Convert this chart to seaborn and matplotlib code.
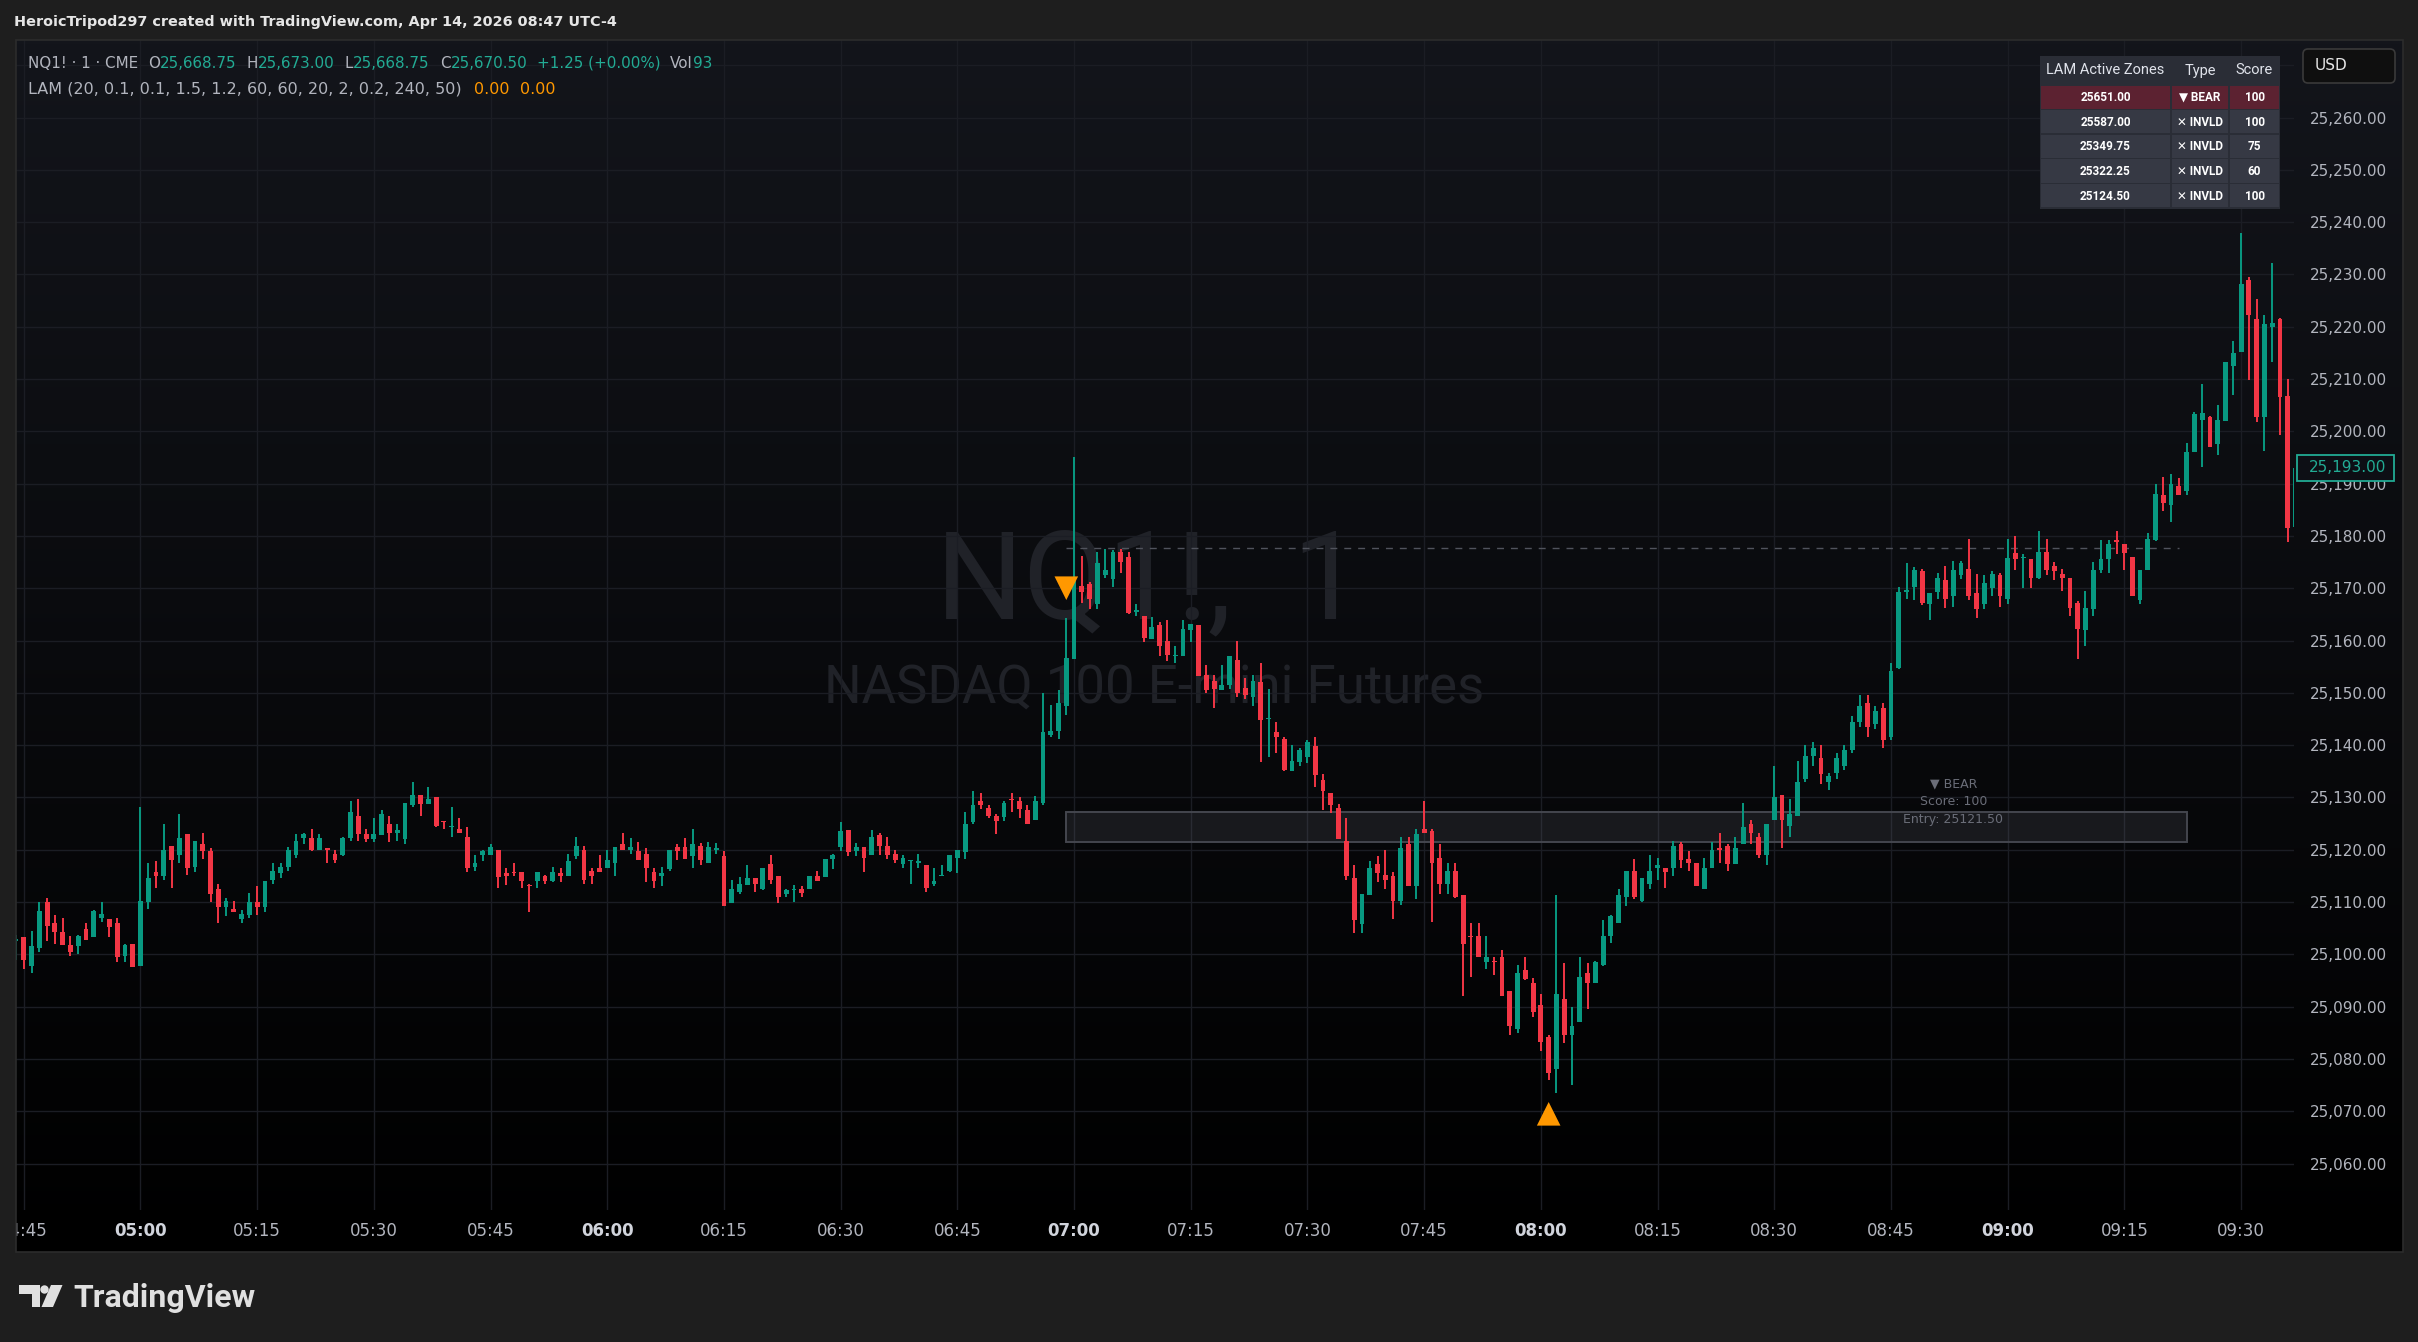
import numpy as np
import pandas as pd
import matplotlib
matplotlib.use("Agg")
import matplotlib.pyplot as plt
import matplotlib.dates as mdates
from matplotlib.patches import Rectangle, FancyBboxPatch, Polygon, Circle
from matplotlib.transforms import blended_transform_factory
import seaborn as sns

DAY = "2026-04-14 "
first_bar = "04:44"

# 1-minute bars, 04:44 .. 09:37 (10 per row)
opens = [
    25102.5, 25103.25, 25097.75, 25101.25, 25110, 25106, 25104.25, 25101.75, 25101.5, 25104.75,      # 04:44
    25103.25, 25107, 25106.75, 25106, 25099.75, 25102, 25097.75, 25110, 25115.75, 25115,             # 04:54
    25120.75, 25119, 25123, 25116.75, 25121, 25119.75, 25112.5, 25109, 25108.75, 25106.75,           # 05:04
    25107.5, 25110, 25109, 25114.25, 25115.5, 25116.75, 25119, 25122.25, 25122.25, 25120,            # 05:14
    25120.25, 25119.25, 25119, 25122.25, 25126.5, 25123, 25122, 25122.75, 25125, 25123.25,           # 05:24
    25122, 25128.5, 25130.5, 25128.75, 25130, 25125.5, 25124.25, 25124, 25122.5, 25116.75,           # 05:34
    25119, 25119, 25120, 25115.5, 25115.75, 25115.75, 25113.25, 25114, 25115, 25114,                 # 05:44
    25115.5, 25115, 25118.75, 25120, 25116, 25116.5, 25116.5, 25117.5, 25121, 25120,                 # 05:54
    25119.75, 25119.25, 25115.75, 25115, 25116.25, 25120.5, 25120.5, 25118.75, 25120.75, 25117.5,    # 06:04
    25120, 25118.75, 25109.75, 25112, 25113.25, 25114.5, 25112.5, 25117.25, 25115, 25111.5,          # 06:14
    25112.25, 25112.5, 25112.5, 25115, 25114.75, 25118.25, 25120.5, 25123.75, 25119.75, 25120.5,     # 06:24
    25119, 25122.75, 25120.75, 25119.25, 25117.25, 25117.75, 25117.5, 25117, 25113.5, 25115,         # 06:34
    25116, 25118.5, 25119.5, 25125.25, 25129.25, 25128, 25126.5, 25126.25, 25129.75, 25129.25,       # 06:44
    25127.5, 25125.75, 25129, 25142, 25142.75, 25147.5, 25156.5, 25170.5, 25170.75, 25167,           # 06:54
    25172.5, 25171.75, 25177, 25176, 25165.5, 25164.75, 25160.25, 25163, 25160, 25157,               # 07:04
    25157, 25162, 25163, 25153.5, 25152.25, 25150.5, 25151.5, 25156.25, 25151, 25149.25,             # 07:14
    25152, 25145, 25142.5, 25141.25, 25135, 25136.75, 25137.75, 25139.75, 25133.25, 25130.75,        # 07:24
    25128, 25121.75, 25114.5, 25105.75, 25111.25, 25117.25, 25115.25, 25115, 25110.25, 25121,        # 07:34
    25113, 25124, 25123.5, 25118.5, 25113.5, 25116, 25111.25, 25103.5, 25103.5, 25098.5,             # 07:44
    25098.75, 25099.5, 25093, 25085.75, 25097, 25094.5, 25090.25, 25084.25, 25078, 25091.5,          # 07:54
    25084.5, 25087, 25096.5, 25094.5, 25098, 25103.5, 25106, 25111, 25116, 25110.25,                 # 08:04
    25113.5, 25116.5, 25116.5, 25116.5, 25121, 25118.25, 25117.5, 25112.5, 25116.5, 25120.25,        # 08:14
    25120.75, 25117.25, 25121, 25125, 25122.5, 25119, 25125.75, 25130.5, 25124.5, 25126.5,           # 08:24
    25133.5, 25138, 25137.5, 25133, 25134.75, 25136, 25139, 25144.5, 25148, 25144,                   # 08:34
    25147, 25141.5, 25154.75, 25169.25, 25170.25, 25173.25, 25167, 25169.25, 25171.5, 25168.5,       # 08:44
    25172.5, 25173.75, 25169, 25167, 25170, 25172.5, 25168, 25176.75, 25175.75, 25175.5,             # 08:54
    25172, 25177, 25174.25, 25172.75, 25172, 25167.25, 25162, 25166, 25173.5, 25175.5,               # 09:04
    25179.25, 25178.5, 25176, 25167.75, 25173.5, 25179.25, 25187.75, 25186, 25189.5, 25188.5,        # 09:14
    25196, 25202.25, 25202.75, 25197.5, 25202, 25212.5, 25215.25, 25229, 25221.5, 25202.75,          # 09:24
    25220, 25221.5, 25206.75, 25181.75,                                                              # 09:34
]
highs = [
    25103.75, 25103.25, 25104.5, 25110, 25110.75, 25107.5, 25107, 25103.5, 25103.75, 25106,
    25108.5, 25110, 25106.75, 25107, 25102, 25102, 25128.25, 25117.5, 25117.75, 25125,
    25120.75, 25126.75, 25123, 25121.75, 25123.25, 25120.25, 25113.5, 25110.75, 25110.25, 25108.5,
    25111.75, 25113, 25114, 25117.5, 25117.5, 25120.5, 25123, 25123.25, 25124, 25123,
    25120.25, 25120, 25122.5, 25129.25, 25129.75, 25124, 25126, 25127.5, 25126.5, 25125,
    25129, 25133, 25130.5, 25132, 25130, 25125.5, 25128.25, 25126, 25124.25, 25119,
    25120, 25121, 25120, 25116.5, 25117.5, 25115.75, 25113.5, 25115.75, 25115.25, 25116.75,
    25116.5, 25119.25, 25122.5, 25120.75, 25116.5, 25119, 25120, 25120.5, 25123.25, 25122.25,
    25121.5, 25120.25, 25116.5, 25116.75, 25120, 25121, 25122.25, 25124, 25121.25, 25121.5,
    25121.25, 25119.75, 25114.25, 25114.75, 25117, 25114.5, 25116.5, 25119, 25115, 25112.5,
    25113.25, 25113, 25115, 25116, 25118.25, 25119.25, 25125.25, 25123.75, 25121.25, 25120.5,
    25123.75, 25123.25, 25122.5, 25120, 25119, 25118, 25119.25, 25117, 25116.5, 25117,
    25119, 25120, 25127.25, 25131.25, 25130.75, 25128.5, 25126.75, 25129.25, 25130.75, 25130,
    25128.5, 25130.25, 25150, 25147.75, 25150.5, 25164.25, 25195, 25176.25, 25171.25, 25177,
    25177.5, 25177.25, 25177.5, 25177, 25167, 25164.75, 25164.5, 25163.5, 25164, 25159,
    25164, 25163.25, 25163, 25155.25, 25153.5, 25155.25, 25157, 25160, 25152.75, 25153.5,
    25155.75, 25150.75, 25144.5, 25141.5, 25140, 25139.5, 25141, 25141.5, 25134.5, 25130.75,
    25128.75, 25126, 25117, 25111.5, 25117.75, 25118.75, 25120, 25115.75, 25122.5, 25122.5,
    25124, 25129.25, 25124, 25121, 25117.5, 25117.5, 25111.25, 25106, 25106, 25103.5,
    25099.5, 25100.75, 25093, 25098, 25099.5, 25095.5, 25092.5, 25084.5, 25111.25, 25098.25,
    25090, 25099.5, 25098.25, 25098.75, 25106.5, 25107.5, 25112.5, 25116, 25118.25, 25114.5,
    25119, 25118.5, 25116.5, 25121.75, 25121.5, 25119.75, 25117.5, 25118.5, 25121.5, 25123.25,
    25121, 25122.5, 25129, 25125.75, 25123.25, 25125, 25136, 25130.5, 25129.75, 25137,
    25140, 25140.5, 25140, 25134.75, 25138.5, 25140, 25145.5, 25149.5, 25149.5, 25147.5,
    25148, 25155.75, 25170.25, 25174.75, 25174, 25173.75, 25169, 25173, 25174.25, 25175.25,
    25175.25, 25179.5, 25172.75, 25172.5, 25173.25, 25173, 25179.5, 25180, 25176.5, 25175.5,
    25181, 25179.5, 25175, 25173.75, 25172, 25167.5, 25169.5, 25175, 25179.25, 25179.25,
    25181, 25178.5, 25176, 25173.5, 25180.5, 25190, 25191.25, 25191.75, 25191, 25197.75,
    25203.75, 25209, 25203, 25205, 25213.25, 25217.25, 25238, 25229.5, 25225.25, 25222.25,
    25232.25, 25221.75, 25210, 25193,
]
lows = [
    25099, 25097.25, 25096.5, 25100.5, 25102.5, 25102, 25101.75, 25099.75, 25100, 25102.75,
    25103.25, 25106.25, 25103.25, 25098.5, 25098.5, 25097.5, 25097.75, 25108.75, 25112.75, 25114.25,
    25112.75, 25117.5, 25115.25, 25115.75, 25118.25, 25110, 25106, 25107.25, 25108, 25106,
    25107, 25107.5, 25108, 25113.5, 25114.5, 25116, 25118.5, 25121, 25119.75, 25120,
    25117.5, 25117.5, 25118.75, 25121.75, 25121.75, 25121.5, 25121.5, 25122.75, 25121.5, 25121.75,
    25121, 25128.25, 25126.5, 25128.75, 25124.25, 25124, 25122.5, 25123.25, 25115.75, 25116,
    25117.75, 25119, 25112.75, 25113.25, 25115, 25112.75, 25108, 25112.75, 25113.5, 25113.75,
    25113.75, 25115, 25118.25, 25113.5, 25113.5, 25115.75, 25116.5, 25115, 25120, 25119.25,
    25118, 25113.75, 25112.75, 25113, 25116, 25118, 25118.25, 25116.5, 25117, 25117.5,
    25119.25, 25109.25, 25109.75, 25111.5, 25113.25, 25112, 25112.25, 25113.5, 25109.75, 25111,
    25110, 25111, 25112.5, 25114, 25114.75, 25116.25, 25119.75, 25118.75, 25118.75, 25115.75,
    25119, 25119, 25118.25, 25117.5, 25116.5, 25113.5, 25116.5, 25112, 25113, 25115,
    25115.75, 25115.5, 25118.25, 25125, 25127.75, 25126, 25123, 25125.5, 25127.25, 25126,
    25125, 25125.75, 25128.5, 25141.5, 25141.25, 25145.75, 25156.5, 25167.25, 25166, 25166,
    25172, 25170.25, 25173, 25165, 25164.75, 25159.75, 25160.25, 25157, 25156, 25155.75,
    25157, 25159.75, 25153.25, 25150, 25147, 25150.5, 25150.75, 25149.25, 25148.75, 25147.5,
    25136.75, 25137.75, 25138.5, 25135, 25135, 25136, 25136.5, 25132, 25127.5, 25127,
    25122, 25114.25, 25104, 25104, 25111.25, 25113.75, 25112.5, 25106.75, 25109.5, 25113,
    25110.5, 25123.25, 25106.25, 25111.5, 25111.5, 25110.75, 25092, 25095.75, 25099.5, 25097.25,
    25096, 25092, 25084.5, 25085, 25095, 25088, 25081.5, 25076, 25073.5, 25083,
    25075, 25087, 25089.5, 25094.5, 25097.75, 25102.25, 25106, 25109.25, 25110.5, 25110,
    25112.5, 25114.25, 25112.75, 25115, 25116.5, 25116, 25113, 25112.5, 25116.5, 25117.5,
    25116, 25117.25, 25121, 25121, 25118.5, 25117, 25125.75, 25120.25, 25122.5, 25126.5,
    25133, 25136, 25132.5, 25131.5, 25133.5, 25135.25, 25138.5, 25143.5, 25141.5, 25143,
    25139.5, 25141, 25154.5, 25168, 25167.75, 25166.75, 25164, 25168, 25166.25, 25166.5,
    25171.75, 25167.75, 25164.25, 25166, 25168.5, 25166.5, 25167, 25173.5, 25170, 25170,
    25171.75, 25172.5, 25171.5, 25169.5, 25164.75, 25156.5, 25159, 25164.75, 25173, 25173,
    25176.5, 25173.5, 25168.5, 25167, 25173.5, 25179, 25184.75, 25182.75, 25187.75, 25187.75,
    25196, 25193.25, 25197, 25195.5, 25202, 25207, 25215.25, 25209.75, 25201.75, 25196.25,
    25213.25, 25199.25, 25178.75, 25181.75,
]
closes = [
    25103, 25099, 25101.5, 25108.25, 25105.5, 25104.25, 25101.75, 25100.5, 25103.5, 25102.75,
    25108.25, 25107.75, 25105.25, 25099.5, 25101.75, 25097.5, 25110.25, 25114.5, 25115, 25120,
    25118, 25122.25, 25116.5, 25121.75, 25119.75, 25111.5, 25109, 25110.25, 25108, 25107.75,
    25110, 25109, 25114, 25116, 25116.75, 25120, 25121.75, 25123, 25120, 25122.25,
    25120, 25118, 25122.25, 25127.25, 25123, 25122, 25123, 25126.75, 25123.25, 25123.75,
    25129, 25130.5, 25128.75, 25129.75, 25124.5, 25125.25, 25124.5, 25123.25, 25116.5, 25117.5,
    25119.75, 25120.5, 25114.75, 25115, 25115.5, 25114, 25113, 25115.75, 25114, 25115.75,
    25115, 25117.75, 25120.75, 25114.25, 25115, 25115.75, 25118, 25120.5, 25120, 25120.5,
    25118, 25116.5, 25114, 25115.5, 25120, 25119.75, 25118.25, 25121, 25118, 25120.5,
    25120.25, 25109.25, 25112.5, 25113.5, 25114.5, 25113.5, 25116.5, 25114.25, 25111, 25112.25,
    25112.5, 25111.75, 25115, 25114, 25118.25, 25119, 25123.5, 25119.5, 25120.5, 25118.5,
    25122.5, 25120.75, 25119, 25118, 25118.5, 25118, 25117.75, 25112.75, 25114, 25115.25,
    25119, 25120, 25125, 25128.5, 25128.5, 25126.5, 25125.5, 25129, 25129.5, 25127.75,
    25125, 25129.25, 25142.5, 25142.75, 25148, 25156.75, 25171.5, 25169.25, 25168, 25174.75,
    25173.5, 25177, 25175, 25165.25, 25165.75, 25160.5, 25162.5, 25159, 25157.25, 25157.25,
    25162.25, 25163.25, 25153.25, 25150.5, 25150.75, 25151.5, 25157, 25150, 25149.5, 25152.25,
    25144.75, 25145.25, 25141.5, 25135.25, 25137, 25139, 25140.5, 25134.25, 25131.25, 25128.5,
    25122, 25115, 25106.5, 25111.5, 25116.5, 25115.5, 25114.25, 25110.25, 25120.25, 25113,
    25123, 25123.25, 25117.5, 25113.5, 25116, 25111, 25102, 25103.25, 25099.5, 25099.5,
    25098.5, 25092, 25086.25, 25096.5, 25095.25, 25089, 25083.25, 25077.25, 25092.5, 25084.5,
    25086.25, 25095.75, 25094.5, 25098.5, 25103.5, 25107.25, 25111.25, 25116, 25111, 25114.5,
    25116, 25117, 25115.75, 25120.75, 25118, 25117.5, 25113, 25116.5, 25120, 25120,
    25117.25, 25120.25, 25124.25, 25123.25, 25119, 25125, 25130, 25125.75, 25126.75, 25133,
    25138, 25139.5, 25134.5, 25134, 25137.5, 25139, 25144.5, 25147.5, 25143.5, 25146.5,
    25141, 25154.25, 25169.25, 25169.75, 25173.5, 25167.25, 25169, 25172, 25168, 25173.5,
    25174.75, 25168.5, 25166, 25171, 25172.75, 25168.5, 25175.75, 25175.5, 25176, 25172,
    25177, 25173.5, 25173.25, 25172, 25166.25, 25162.25, 25166.25, 25173.5, 25175.5, 25178.5,
    25178.75, 25176.75, 25168.5, 25173.5, 25179.5, 25188, 25186.25, 25190, 25187.75, 25196,
    25203.25, 25203.5, 25197, 25202.25, 25213.25, 25215, 25228.25, 25222.25, 25202.75, 25220.5,
    25220.75, 25206.5, 25181.5, 25193,
]

price_ticks = list(range(25060, 25271, 10))

signal_times = ["06:59", "08:01"]
signal_prices = [25170.0, 25069.5]
signal_marks = ["v", "^"]

zone_from, zone_to = "06:59", "09:23"
zone_entry, zone_top = 25121.50, 25127.25
zone_label_at = "08:53"
zone_label_lines = ["▼ BEAR", "Score: 100", "Entry: 25121.50"]
zone_label_prices = [25132.5, 25129.25, 25125.75]
level_price = 25177.75
level_from, level_to = "06:59", "09:22"

table_head = ["LAM Active Zones", "Type", "Score"]
table_levels = ["25651.00", "25587.00", "25349.75", "25322.25", "25124.50"]
table_types = ["▼ BEAR", "✕ INVLD", "✕ INVLD", "✕ INVLD", "✕ INVLD"]
table_scores = ["100", "100", "75", "60", "100"]

header_text = "HeroicTripod297 created with TradingView.com, Apr 14, 2026 08:47 UTC-4"
legend_symbol = "NQ1! · 1 · CME"
ohlc_names = ["O", "H", "L", "C"]
ohlc_values = ["25,668.75", "25,673.00", "25,668.75", "25,670.50"]
change_text = "+1.25 (+0.00%)"
volume_text = "93"
study_text = "LAM (20, 0.1, 0.1, 1.5, 1.2, 60, 60, 20, 2, 0.2, 240, 50)"
study_values = ["0.00", "0.00"]

# ---------------- style ----------------
sns.set_theme(style="dark")
plt.rcParams["font.family"] = ["DejaVu Sans"]
ROBOTO = ["Roboto", "DejaVu Sans"]

W, H = 2418, 1342
OUTER = "#1e1e1e"
UP, DOWN = "#089981", "#f23645"
GRAY_TXT = "#b2b5be"
ORANGE = "#ff9800"
TEAL = "#22ab94"


def tm(hhmm):
    return mdates.date2num(pd.Timestamp(DAY + hhmm))


def frac_box(l, t, r, b):
    return [l / W, 1 - b / H, (r - l) / W, (b - t) / H]


fig = plt.figure(figsize=(W / 100, H / 100), dpi=100, facecolor=OUTER)

# dark gradient behind pane + scales
bg = fig.add_axes(frac_box(16, 40, 2403, 1252), zorder=0)
shade = np.linspace(0, 1, 300)[:, None, None]
top_rgb = np.array([19, 21, 27]) / 255
bg.imshow(top_rgb[None, None, :] * (1 - shade), aspect="auto", extent=[0, 1, 0, 1])
bg.axis("off")

ax = fig.add_axes(frac_box(16, 40, 2294, 1210), zorder=1)
ax.patch.set_alpha(0)

# candles
bars = pd.date_range(DAY + first_bar, periods=len(closes), freq="min")
x = mdates.date2num(bars)
o, hi, lo, c = (np.asarray(v, dtype=float) for v in (opens, highs, lows, closes))
col = np.where(c >= o, UP, DOWN)
ax.vlines(x, np.minimum(lo, np.minimum(o, c)), np.maximum(hi, np.maximum(o, c)),
          colors=col, lw=1.4, zorder=3)
ax.bar(x, np.maximum(np.abs(c - o), 0.18), bottom=np.minimum(o, c),
       width=0.62 / 1440, color=col, linewidth=0, zorder=4)

# watermark
ax.text(0.497, 0.534, "NQ1!,  1", transform=ax.transAxes, ha="center", va="center",
        fontsize=88, color="#202228", family=ROBOTO, zorder=0.2)
ax.text(0.4996, 0.446, "NASDAQ 100 E-mini Futures", transform=ax.transAxes,
        ha="center", va="center", fontsize=38, color="#202228", family=ROBOTO, zorder=0.2)

# zone box, level, labels
ax.add_patch(Rectangle((tm(zone_from), zone_entry), tm(zone_to) - tm(zone_from),
                       zone_top - zone_entry, fc=(0.47, 0.48, 0.53, 0.16),
                       ec="#44464e", lw=1.4, zorder=2))
ax.hlines(level_price, tm(level_from), tm(level_to), colors="#50535c",
          linestyles=(0, (5, 5)), lw=1.0, zorder=2)
for line, p in zip(zone_label_lines, zone_label_prices):
    ax.text(tm(zone_label_at), p, line, ha="center", va="center",
            color="#6a6d78", fontsize=9, zorder=2)

# signals
sig = pd.DataFrame({"x": [tm(t) for t in signal_times], "y": signal_prices, "m": signal_marks})
sns.scatterplot(data=sig, x="x", y="y", style="m", markers={"v": "v", "^": "^"},
                s=17 ** 2, color=ORANGE, edgecolor="none", legend=False, ax=ax, zorder=6)
ax.set_xlabel("")
ax.set_ylabel("")

# axes / grid
ticks = pd.date_range(DAY + "04:45", DAY + "09:30", freq="15min")
ax.set_xticks(mdates.date2num(ticks))
ax.set_xticklabels([t.strftime("%H:%M") for t in ticks])
ax.set_yticks(price_ticks)
# top grid level sits under the currency box, so it carries no label
ax.set_yticklabels([f"{p:,.2f}" if p < 25270 else "" for p in price_ticks])
ax.yaxis.tick_right()
ax.tick_params(axis="x", length=0, pad=9, labelsize=12, labelcolor=GRAY_TXT)
ax.tick_params(axis="y", length=0, pad=11.5, labelsize=11, labelcolor=GRAY_TXT)
for lab, t in zip(ax.get_xticklabels(), ticks):
    if t.minute == 0:
        lab.set_fontweight("bold")
        lab.set_color("#d1d4dc")
ax.grid(True, color="#1b1d24", lw=1)
ax.set_axisbelow(True)
for s in ax.spines.values():
    s.set_visible(False)
ax.set_xlim(tm(first_bar), tm(first_bar) + 292.8 / 1440)
ax.set_ylim(25051.11, 25274.82)

# last price tag
trans = blended_transform_factory(ax.transAxes, ax.transData)
ax.add_patch(Rectangle((1 + 3 / 2278, closes[-1] - 2.45), 97 / 2278, 4.9, transform=trans,
                       fc="#0d0f15", ec=TEAL, lw=1.3, zorder=8, clip_on=False))
ax.text(1 + 15 / 2278, closes[-1], f"{closes[-1]:,.2f}", transform=trans, ha="left",
        va="center", color=TEAL, fontsize=11, zorder=9, clip_on=False)

# ---------------- overlay (pixel coords) ----------------
ov = fig.add_axes([0, 0, 1, 1], zorder=5)
ov.set_xlim(0, W)
ov.set_ylim(H, 0)
ov.axis("off")

ov.add_patch(Rectangle((0, 1195), 15.5, 70, fc=OUTER, ec="none"))
ov.add_patch(Rectangle((16, 40), 2387, 1212, fill=False, ec="#2c2c2c", lw=1.2))

ov.text(14, 22, header_text, color="#e6e6e6", fontsize=10.4, fontweight="bold", va="center")

renderer = fig.canvas.get_renderer()


def run(x0, y0, parts, size):
    for txt, colr, gap in parts:
        t = ov.text(x0, y0, txt, color=colr, fontsize=size, va="center", ha="left")
        x0 += t.get_window_extent(renderer).width + gap


line1 = [(legend_symbol, GRAY_TXT, 10)]
for n, v in zip(ohlc_names, ohlc_values):
    line1 += [(n, GRAY_TXT, 0), (v, TEAL, 10)]
line1 += [(change_text, TEAL, 9), ("Vol", GRAY_TXT, 0), (volume_text, TEAL, 0)]
run(28, 63, line1, 10.9)
run(28, 89, [(study_text, GRAY_TXT, 12)] + [(v, ORANGE, 11) for v in study_values], 11.5)

# USD box
ov.add_patch(FancyBboxPatch((2303, 49), 92, 34, boxstyle="round,pad=0,rounding_size=5",
                            fc="#0f0f0f", ec="#3a3a3a", lw=1.2))
ov.text(2315, 66, "USD", color="#e6e6e6", fontsize=11, va="center")

# table
tx = [2040, 2171, 2229, 2280]
ov.add_patch(Rectangle((tx[0], 56), tx[-1] - tx[0], 153, fc="#2a2d36", ec="none"))
for i, h in enumerate(table_head):
    ov.text((tx[i] + tx[i + 1]) / 2, 70.5, h, color="#e0e3eb", fontsize=10.5,
            family=ROBOTO, ha="center", va="center")
for k, row in enumerate(zip(table_levels, table_types, table_scores)):
    y0 = 85.5 + k * 24.65
    for i, val in enumerate(row):
        ov.add_patch(Rectangle((tx[i] + 1, y0), tx[i + 1] - tx[i] - 2, 23.3,
                               fc="#5c2231" if k == 0 else "#363944", ec="none"))
        ov.text((tx[i] + tx[i + 1]) / 2, y0 + 12, val, color="#ffffff", fontsize=8.5,
                fontweight="bold", family=ROBOTO, ha="center", va="center")

# footer logo
LOGO = "#e0e0e0"
ov.add_patch(Polygon([(18.5, 1285), (40, 1285), (40, 1307), (31.5, 1307), (31.5, 1293.5),
                      (18.5, 1293.5)], closed=True, fc=LOGO, ec="none"))
ov.add_patch(Circle((44.5, 1289.5), 4.2, fc=LOGO, ec="none"))
ov.add_patch(Polygon([(51, 1285), (62.5, 1285), (53, 1307), (41.5, 1307)], closed=True,
                     fc=LOGO, ec="none"))
ov.text(73, 1307, "TradingView", color=LOGO, fontsize=23, fontweight="bold",
        family=ROBOTO, va="baseline")

fig.savefig("out.png", dpi=100, facecolor=OUTER)
